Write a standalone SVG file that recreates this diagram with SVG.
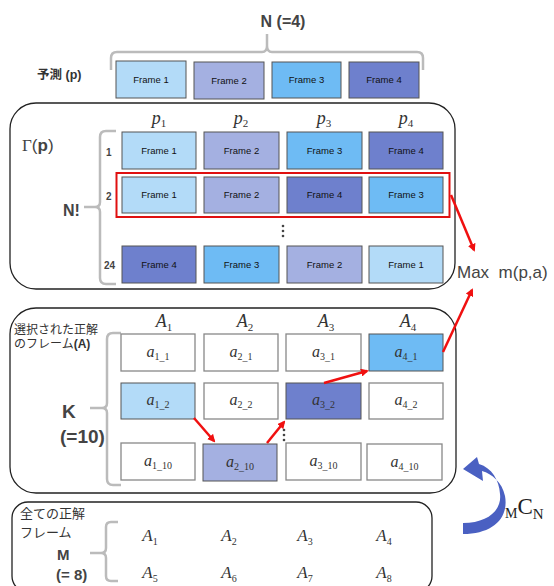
<svg xmlns="http://www.w3.org/2000/svg" width="554" height="586" viewBox="0 0 554 586">
<style>
.panel{fill:#fff;stroke:#222;stroke-width:1.3}
.fr{stroke:#555;stroke-width:1}
.f1{fill:#b3dbf8}.f2{fill:#a4b0e1}.f3{fill:#6ebbf4}.f4{fill:#6e80cd}
.ab{fill:#fff;stroke:#888;stroke-width:1.3}
.ft{font-family:"Liberation Sans",Arial,sans-serif;font-size:9.5px;fill:#111;text-anchor:middle}
.b{font-family:"Liberation Sans",Arial,sans-serif;font-weight:bold;fill:#444}
.jp{font-family:"Liberation Sans","Noto Sans CJK JP",sans-serif;fill:#333}
.m{font-family:"Liberation Serif","DejaVu Serif",serif;font-style:italic;fill:#333;text-anchor:middle}
.brace{fill:none;stroke:#bbb;stroke-width:2.5}
.red{stroke:#f01010;stroke-width:2.5;fill:none;marker-end:url(#ah)}
.dot{fill:#444}
</style>
<defs>
<marker id="ah" markerWidth="8" markerHeight="8" refX="6" refY="4" orient="auto" markerUnits="userSpaceOnUse" viewBox="0 0 8 8">
<path d="M0,0 L8,4 L0,8 Z" fill="#f01010"/>
</marker>
</defs>

<g id="title">
<text class="b" x="283" y="27" font-size="16" text-anchor="middle">N (=4)</text>
<path class="brace" d="M111,70 L111,58 Q111,52 117,52 L262,52 Q267,52 267,46 L267,34 M267,46 Q267,52 272,52 L417,52 Q423,52 423,58 L423,70"/>
</g>

<g id="prediction">
<text class="jp" x="37" y="79" font-size="12.5" font-weight="bold">予測 (p)</text>
<rect class="fr f1" x="116" y="61" width="70" height="37"/><text class="ft" x="151" y="83">Frame 1</text>
<rect class="fr f2" x="194" y="62" width="70" height="37"/><text class="ft" x="229" y="84">Frame 2</text>
<rect class="fr f3" x="272" y="62" width="69" height="36"/><text class="ft" x="306.5" y="83">Frame 3</text>
<rect class="fr f4" x="349" y="62" width="70" height="36"/><text class="ft" x="384" y="83">Frame 4</text>
</g>

<g id="permutations">
<rect class="panel" x="10" y="103" width="445" height="186" rx="26"/>
<text x="22" y="151" font-size="17" fill="#444" font-family="Liberation Sans,Arial,sans-serif"><tspan font-family="Liberation Serif,serif">Γ</tspan>(<tspan font-weight="bold">p</tspan>)</text>
<text class="m" x="159" y="124" font-size="18">p<tspan dy="3" font-size="11" font-style="normal">1</tspan></text>
<text class="m" x="241" y="124" font-size="18">p<tspan dy="3" font-size="11" font-style="normal">2</tspan></text>
<text class="m" x="324" y="124" font-size="18">p<tspan dy="3" font-size="11" font-style="normal">3</tspan></text>
<text class="m" x="406" y="124" font-size="18">p<tspan dy="3" font-size="11" font-style="normal">4</tspan></text>
<path class="brace" d="M116,131 L106,131 Q100,131 100,137 L100,202 Q100,207 95,207 L84,207 M95,207 Q100,207 100,212 L100,278 Q100,284 106,284 L116,284"/>
<text class="b" x="63" y="216" font-size="16">N!</text>
<text class="b" x="106" y="156" font-size="10">1</text>
<text class="b" x="106" y="200" font-size="10">2</text>
<text class="b" x="104" y="269" font-size="10">24</text>
<rect class="fr f1" x="122" y="132" width="74" height="37"/><text class="ft" x="159" y="154">Frame 1</text>
<rect class="fr f2" x="204" y="132" width="75" height="37"/><text class="ft" x="241.5" y="154">Frame 2</text>
<rect class="fr f3" x="287" y="132" width="75" height="37"/><text class="ft" x="324.5" y="154">Frame 3</text>
<rect class="fr f4" x="369" y="132" width="74" height="37"/><text class="ft" x="406" y="154">Frame 4</text>
<rect class="fr f1" x="122" y="177" width="74" height="36"/><text class="ft" x="159" y="198">Frame 1</text>
<rect class="fr f2" x="204" y="177" width="75" height="36"/><text class="ft" x="241.5" y="198">Frame 2</text>
<rect class="fr f4" x="287" y="177" width="75" height="36"/><text class="ft" x="324.5" y="198">Frame 4</text>
<rect class="fr f3" x="369" y="177" width="74" height="36"/><text class="ft" x="406" y="198">Frame 3</text>
<rect class="fr f4" x="122" y="246" width="74" height="37"/><text class="ft" x="159" y="268">Frame 4</text>
<rect class="fr f3" x="204" y="246" width="75" height="37"/><text class="ft" x="241.5" y="268">Frame 3</text>
<rect class="fr f2" x="287" y="246" width="75" height="37"/><text class="ft" x="324.5" y="268">Frame 2</text>
<rect class="fr f1" x="369" y="246" width="74" height="37"/><text class="ft" x="406" y="268">Frame 1</text>
<rect x="116.5" y="173" width="333" height="44" fill="none" stroke="#e01010" stroke-width="2"/>
<circle class="dot" cx="283" cy="226" r="1.3"/><circle class="dot" cx="283" cy="231" r="1.3"/><circle class="dot" cx="283" cy="236" r="1.3"/>
</g>

<g id="max">
<text x="457" y="278" font-size="17" fill="#444" font-family="Liberation Sans,Arial,sans-serif" xml:space="preserve">Max  m(p,a)</text>
</g>

<g id="selected">
<rect class="panel" x="10" y="308" width="446" height="185" rx="26"/>
<text class="jp" x="14" y="334" font-size="12">選択された正解</text>
<text class="jp" x="14" y="348" font-size="12">のフレーム<tspan font-weight="bold">(A)</tspan></text>
<text class="b" x="62" y="418" font-size="19">K</text>
<text class="b" x="60" y="443" font-size="19">(=10)</text>
<path class="brace" d="M121,333 L113,333 Q107,333 107,339 L107,403 Q107,408 102,408 L90,408 M102,408 Q107,408 107,413 L107,479 Q107,485 113,485 L121,485"/>
<text class="m" x="164" y="327" font-size="18">A<tspan dy="4" font-size="11" font-style="normal">1</tspan></text>
<text class="m" x="245" y="327" font-size="18">A<tspan dy="4" font-size="11" font-style="normal">2</tspan></text>
<text class="m" x="326" y="327" font-size="18">A<tspan dy="4" font-size="11" font-style="normal">3</tspan></text>
<text class="m" x="408" y="327" font-size="18">A<tspan dy="4" font-size="11" font-style="normal">4</tspan></text>

<rect class="ab" x="121" y="334" width="74" height="37"/><text class="m" x="158" y="357" font-size="16">a<tspan dy="3" font-size="10" font-style="normal">1_1</tspan></text>
<rect class="ab" x="204" y="334" width="74" height="37"/><text class="m" x="241" y="357" font-size="16">a<tspan dy="3" font-size="10" font-style="normal">2_1</tspan></text>
<rect class="ab" x="286" y="334" width="75" height="37"/><text class="m" x="323.5" y="357" font-size="16">a<tspan dy="3" font-size="10" font-style="normal">3_1</tspan></text>
<rect class="fr f3" x="369" y="334" width="74" height="37"/><text class="m" x="406" y="357" font-size="16">a<tspan dy="3" font-size="10" font-style="normal">4_1</tspan></text>

<rect class="fr f1" x="121" y="383" width="74" height="36"/><text class="m" x="158" y="405" font-size="16">a<tspan dy="3" font-size="10" font-style="normal">1_2</tspan></text>
<rect class="ab" x="204" y="383" width="74" height="36"/><text class="m" x="241" y="405" font-size="16">a<tspan dy="3" font-size="10" font-style="normal">2_2</tspan></text>
<rect class="fr f4" x="286" y="383" width="75" height="36"/><text class="m" x="323.5" y="405" font-size="16">a<tspan dy="3" font-size="10" font-style="normal">3_2</tspan></text>
<rect class="ab" x="369" y="383" width="74" height="36"/><text class="m" x="406" y="405" font-size="16">a<tspan dy="3" font-size="10" font-style="normal">4_2</tspan></text>

<rect class="ab" x="121" y="443" width="74" height="37"/><text class="m" x="158" y="466" font-size="16">a<tspan dy="3" font-size="10" font-style="normal">1_10</tspan></text>
<rect class="fr f2" x="203" y="444" width="74" height="37"/><text class="m" x="240" y="467" font-size="16">a<tspan dy="3" font-size="10" font-style="normal">2_10</tspan></text>
<rect class="ab" x="286" y="443" width="75" height="37"/><text class="m" x="323.5" y="466" font-size="16">a<tspan dy="3" font-size="10" font-style="normal">3_10</tspan></text>
<rect class="ab" x="367" y="444" width="75" height="36"/><text class="m" x="404.5" y="467" font-size="16">a<tspan dy="3" font-size="10" font-style="normal">4_10</tspan></text>
<circle class="dot" cx="284" cy="430" r="1.3"/><circle class="dot" cx="284" cy="435" r="1.3"/><circle class="dot" cx="284" cy="440" r="1.3"/>
</g>

<g id="all">
<rect class="panel" x="12" y="502" width="420" height="90" rx="16"/>
<text class="jp" x="20" y="518" font-size="13">全ての正解</text>
<text class="jp" x="20" y="537" font-size="13">フレーム</text>
<text class="b" x="57" y="560" font-size="15">M</text>
<text class="b" x="56" y="580" font-size="15">(= 8)</text>
<path class="brace" d="M118,522 L111,522 Q106,522 106,527 L106,548 Q106,553 101,553 L90,553 M101,553 Q106,553 106,558 L106,576 Q106,581 111,581 L118,581"/>
<text class="m" x="150" y="541" font-size="17">A<tspan dy="4" font-size="10" font-style="normal">1</tspan></text>
<text class="m" x="229" y="541" font-size="17">A<tspan dy="4" font-size="10" font-style="normal">2</tspan></text>
<text class="m" x="305" y="541" font-size="17">A<tspan dy="4" font-size="10" font-style="normal">3</tspan></text>
<text class="m" x="384" y="541" font-size="17">A<tspan dy="4" font-size="10" font-style="normal">4</tspan></text>
<text class="m" x="150" y="578" font-size="17">A<tspan dy="4" font-size="10" font-style="normal">5</tspan></text>
<text class="m" x="229" y="578" font-size="17">A<tspan dy="4" font-size="10" font-style="normal">6</tspan></text>
<text class="m" x="305" y="578" font-size="17">A<tspan dy="4" font-size="10" font-style="normal">7</tspan></text>
<text class="m" x="384" y="578" font-size="17">A<tspan dy="4" font-size="10" font-style="normal">8</tspan></text>
</g>

<g id="mcn">
<text x="505" y="518" font-family="Liberation Serif,DejaVu Serif,serif" fill="#222"><tspan font-size="14">M</tspan><tspan font-size="23" dy="-4">C</tspan><tspan font-size="15" dy="5">N</tspan></text>
</g>

<g id="connectors">
<path class="red" d="M451,195 L474,250"/>
<path class="red" d="M443,352 L472,290"/>
<path class="red" d="M194,418 L214,441"/>
<path class="red" d="M267,443 L284,422"/>
<path class="red" d="M324,383 L367,371"/>
<path d="M463,534 C493,534 509,518 505,496 C502,482 492,474 482,471 L483,481 L463,469 L477,457 L479,464 C492,468 499,480 500,494 C502,510 488,523 463,523 Z" fill="#4a60c2"/>
</g>
</svg>
